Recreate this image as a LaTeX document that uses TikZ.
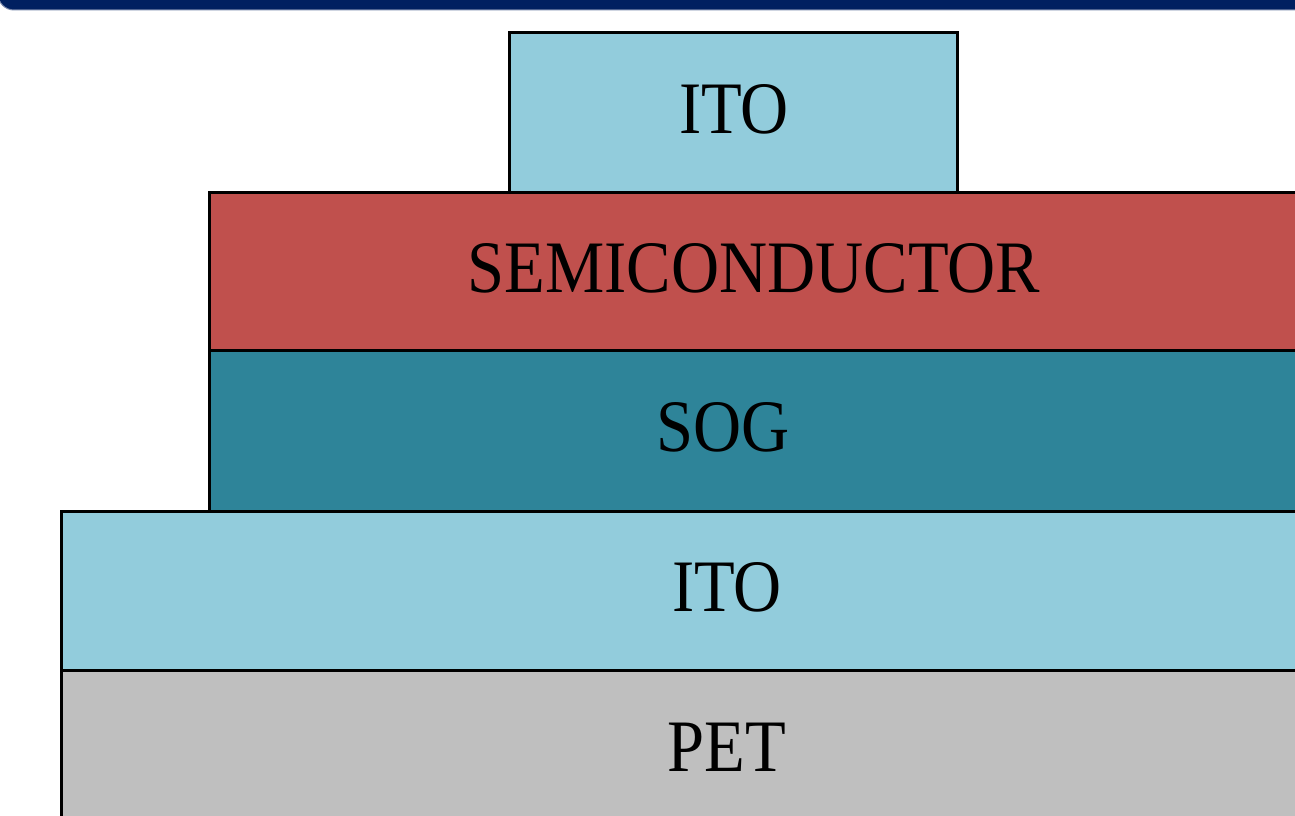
\documentclass[tikz,border=0pt]{standalone}
\usepackage{fontspec}
\setmainfont{Liberation Serif}
\definecolor{navy}{RGB}{0,32,96}
\definecolor{navyedge}{RGB}{120,135,170}
\definecolor{itoblue}{RGB}{146,204,220}
\definecolor{semired}{RGB}{192,80,77}
\definecolor{sogteal}{RGB}{46,132,153}
\definecolor{petgray}{RGB}{191,191,191}
\newcommand{\layertext}[1]{\scalebox{0.9}[1]{\fontsize{74}{80}\selectfont #1}}
\begin{document}
\begin{tikzpicture}[x=1pt,y=-1pt,
  layer/.style={draw=black, line width=3pt, inner sep=0pt, outer sep=0pt,
                anchor=north west, rectangle},
  lbl/.style={anchor=base, inner sep=0pt, text=black}]
  \useasboundingbox (0,0) rectangle (1295,816);
  \clip (0,0) rectangle (1295,816);
  % header band
  \path[fill=navy, draw=navyedge, line width=1pt, rounded corners=16pt]
    (-2,-30) rectangle (1320,10);
  % layer stack, bottom first
  \node[layer, fill=petgray,  minimum width=1260pt, minimum height=170pt] (pet)  at (61,670) {};
  \node[layer, fill=itoblue,  minimum width=1260pt, minimum height=159pt] (itob) at (61,511) {};
  \node[layer, fill=sogteal,  minimum width=1110pt, minimum height=161pt] (sog)  at (209.5,350) {};
  \node[layer, fill=semired,  minimum width=1110pt, minimum height=158pt] (semi) at (209.5,192) {};
  \node[layer, fill=itoblue,  minimum width=448pt,  minimum height=159pt] (itot) at (509.5,33) {};
  % labels
  \node[lbl] (itotl) at (734,133) {\layertext{ITO}};
  \node[lbl] (semil) at (754,292) {\layertext{SEMICONDUCTOR}};
  \node[lbl] (sogl)  at (723,451) {\layertext{SOG}};
  \node[lbl] (itobl) at (727,611) {\layertext{ITO}};
  \node[lbl] (petl)  at (727,771) {\layertext{PET}};
\end{tikzpicture}
\end{document}
